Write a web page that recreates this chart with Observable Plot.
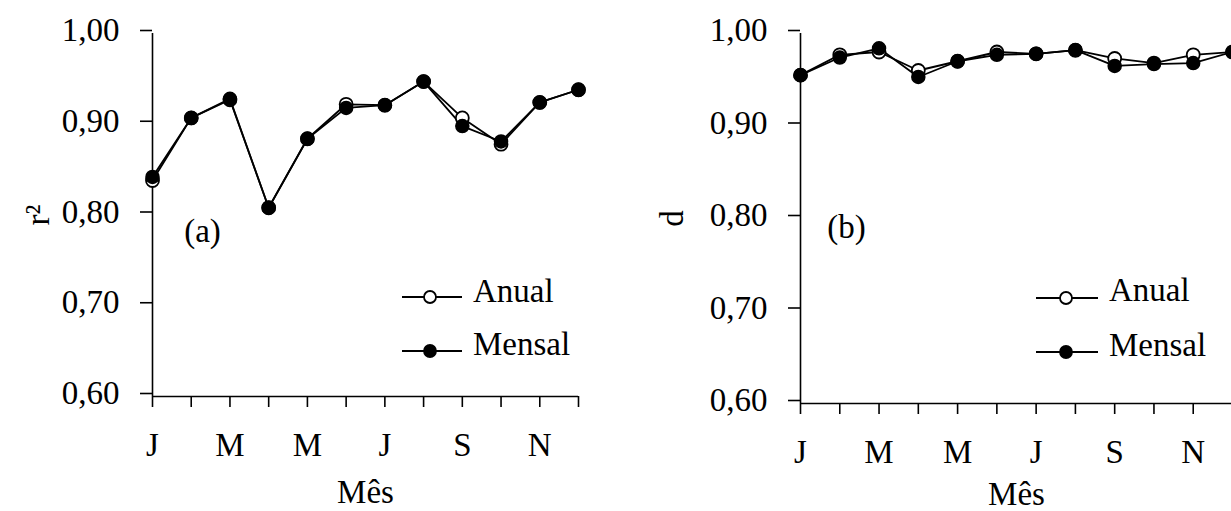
<!DOCTYPE html>
<html>
<head>
<meta charset="utf-8">
<script src="https://cdn.jsdelivr.net/npm/d3@7"></script>
<script src="https://cdn.jsdelivr.net/npm/@observablehq/plot@0.6"></script>
<style>
  html, body { margin: 0; padding: 0; background: #fff; }
  #wrap { position: relative; width: 1231px; height: 511px; overflow: hidden; background: #fff; }
  #wrap > svg, #wrap > figure { position: absolute; top: 0; margin: 0; }
</style>
</head>
<body>
<div id="wrap"></div>
<script>
// ---- data ----
const months = [1, 2, 3, 4, 5, 6, 7, 8, 9, 10, 11, 12];
const monthTickLabels = ["J", "", "M", "", "M", "", "J", "", "S", "", "N", ""];
const yTicks = [0.6, 0.7, 0.8, 0.9, 1.0];

const r2Anual  = [0.838, 0.907, 0.927, 0.808, 0.884, 0.922, 0.921, 0.947, 0.907, 0.878, 0.924, 0.938];
const r2Mensal = [0.842, 0.907, 0.928, 0.808, 0.884, 0.918, 0.921, 0.947, 0.898, 0.881, 0.924, 0.938];
const dAnual   = [0.955, 0.977, 0.980, 0.960, 0.970, 0.980, 0.978, 0.982, 0.973, 0.968, 0.977, 0.980];
const dMensal  = [0.955, 0.974, 0.984, 0.953, 0.970, 0.977, 0.978, 0.982, 0.965, 0.967, 0.968, 0.980];

const seriesNames = ["Anual", "Mensal"];

const FONT = "'Liberation Serif', 'Times New Roman', serif";
const FS = 33;
const fmt = d => d.toFixed(2).replace(".", ",");

function panel({anual, mensal, yLabel, tag, width, marginLeft, marginRight, marginBottom, left, tagDx, tagDy, yLabelDx, titleDy}) {
  const rowsA = months.map((m, i) => ({m, v: anual[i]}));
  const rowsM = months.map((m, i) => ({m, v: mensal[i]}));
  const p = Plot.plot({
    width, height: 511,
    marginLeft, marginRight, marginTop: 33, marginBottom,
    style: {fontFamily: FONT, fontSize: FS + "px", color: "#000", background: "transparent", overflow: "visible"},
    x: {type: "linear", domain: [1, 12]},
    y: {domain: [0.6, 1.0]},
    marks: [
      Plot.ruleX([1], {stroke: "#000", strokeWidth: 1.6}),
      Plot.ruleY([0.6], {stroke: "#000", strokeWidth: 1.6}),
      Plot.axisY({ticks: yTicks, tickSize: 12, tickPadding: 21, tickFormat: fmt, strokeWidth: 1.6, dy: -3, label: null, fill: "#000", fontSize: FS}),
      Plot.axisX({ticks: months, tickSize: 11, tickPadding: 25, tickFormat: d => monthTickLabels[d - 1], strokeWidth: 1.6, label: null, fill: "#000", fontSize: FS}),
      Plot.lineY(rowsA, {x: "m", y: "v", stroke: "#000", strokeWidth: 1.8}),
      Plot.lineY(rowsM, {x: "m", y: "v", stroke: "#000", strokeWidth: 1.8}),
      Plot.dot(rowsA, {x: "m", y: "v", r: 6.5, fill: "#fff", stroke: "#000", strokeWidth: 1.8}),
      Plot.dot(rowsM, {x: "m", y: "v", r: 6.5, fill: "#000", stroke: "#000", strokeWidth: 1.5}),
      Plot.text([tag], {frameAnchor: "top-left", dx: tagDx, dy: tagDy, textAnchor: "middle", lineAnchor: "middle", fontSize: FS, fill: "#000"}),
      Plot.text([yLabel], {frameAnchor: "left", dx: yLabelDx, rotate: -90, textAnchor: "middle", lineAnchor: "middle", fontSize: FS, fill: "#000"}),
      Plot.text(["Mês"], {frameAnchor: "bottom", dy: titleDy, textAnchor: "middle", lineAnchor: "bottom", fontSize: FS, fill: "#000"})
    ]
  });
  p.style.left = left + "px";
  return p;
}

const wrap = document.getElementById("wrap");
wrap.appendChild(panel({anual: r2Anual, mensal: r2Mensal, yLabel: "r²", tag: "(a)",
  width: 620, marginLeft: 152, marginRight: 42, marginBottom: 115, left: 0, tagDx: 50, tagDy: 198, yLabelDx: -114, titleDy: 106}));
wrap.appendChild(panel({anual: dAnual, mensal: dMensal, yLabel: "d", tag: "(b)",
  width: 614, marginLeft: 180, marginRight: 2, marginBottom: 108, left: 620, tagDx: 46, tagDy: 194, yLabelDx: -128, titleDy: 101}));

// ---- legends (overlay) ----
const legendSvg = d3.select(wrap).append("svg")
  .attr("width", 1231).attr("height", 511)
  .style("position", "absolute").style("left", "0px").style("top", "0px")
  .style("font-family", FONT).style("font-size", FS + "px");

function legend(x0, x1, cx, tx, ys, tys) {
  seriesNames.forEach((name, i) => {
    const g = legendSvg.append("g");
    g.append("line").attr("x1", x0).attr("x2", x1).attr("y1", ys[i]).attr("y2", ys[i])
      .attr("stroke", "#000").attr("stroke-width", 1.8);
    g.append("circle").attr("cx", cx).attr("cy", ys[i]).attr("r", 6)
      .attr("fill", i === 0 ? "#fff" : "#000").attr("stroke", "#000").attr("stroke-width", 1.8);
    g.append("text").attr("x", tx).attr("y", tys[i]).attr("fill", "#000").text(name);
  });
}
legend(402, 462, 430, 473, [297, 351], [302, 355]);
legend(1036, 1098, 1066, 1109, [298, 352], [301, 356]);
</script>
</body>
</html>
